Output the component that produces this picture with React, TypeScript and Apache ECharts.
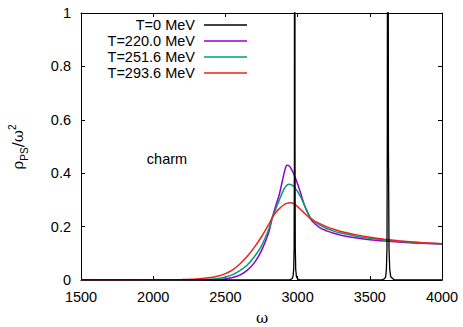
import React, { useEffect, useRef } from "react";
import * as echarts from "echarts";

const seriesNames = ["T=0 MeV", "T=220.0 MeV", "T=251.6 MeV", "T=293.6 MeV"];
const seriesColors = ["#000000", "#9400D3", "#009E73", "#E8251B"];

const t0Omega = [1500, 2940, 2960, 2968, 2973, 2976, 2978, 2980, 2982, 2984, 2987, 2992, 3000, 3020, 3580, 3600, 3610, 3615, 3619, 3621, 3623, 3625, 3627, 3629, 3633, 3638, 3645, 3670, 4000];
const t0Rho = [0, 0, 0.004, 0.012, 0.04, 0.12, 0.5, 6, 0.5, 0.12, 0.04, 0.012, 0.004, 0, 0, 0.004, 0.012, 0.04, 0.12, 0.5, 1.5, 6, 1.5, 0.5, 0.12, 0.04, 0.012, 0, 0];

const t220Omega = [1500, 2300, 2400, 2500, 2550, 2600, 2650, 2700, 2750, 2800, 2825, 2850, 2875, 2900, 2915, 2925, 2935, 2950, 2975, 3000, 3025, 3050, 3086, 3100, 3150, 3200, 3250, 3300, 3400, 3500, 3600, 3700, 3800, 3900, 4000];
const t220Rho = [0, 0, 0.001, 0.004, 0.009, 0.018, 0.036, 0.064, 0.11, 0.178, 0.234, 0.28, 0.324, 0.385, 0.418, 0.43, 0.429, 0.422, 0.395, 0.36, 0.318, 0.276, 0.233, 0.221, 0.197, 0.184, 0.175, 0.168, 0.158, 0.151, 0.146, 0.142, 0.139, 0.137, 0.135];

const t252Omega = [1500, 2200, 2300, 2400, 2450, 2500, 2550, 2600, 2650, 2700, 2750, 2800, 2825, 2850, 2875, 2900, 2920, 2940, 2960, 2980, 3000, 3025, 3050, 3086, 3100, 3150, 3200, 3250, 3300, 3400, 3500, 3600, 3700, 3800, 3900, 4000];
const t252Rho = [0, 0, 0.001, 0.003, 0.006, 0.011, 0.02, 0.035, 0.055, 0.087, 0.128, 0.19, 0.234, 0.268, 0.302, 0.334, 0.352, 0.359, 0.356, 0.346, 0.331, 0.307, 0.277, 0.236, 0.228, 0.207, 0.193, 0.183, 0.176, 0.165, 0.156, 0.150, 0.145, 0.141, 0.138, 0.136];

const t294Omega = [1500, 2000, 2200, 2300, 2400, 2450, 2500, 2550, 2600, 2650, 2700, 2750, 2800, 2825, 2850, 2875, 2900, 2925, 2950, 2975, 3000, 3025, 3050, 3086, 3100, 3150, 3200, 3250, 3300, 3400, 3500, 3600, 3700, 3800, 3900, 4000];
const t294Rho = [0, 0.0005, 0.002, 0.004, 0.009, 0.015, 0.024, 0.038, 0.06, 0.088, 0.122, 0.162, 0.208, 0.234, 0.254, 0.268, 0.28, 0.287, 0.289, 0.285, 0.275, 0.262, 0.249, 0.231, 0.225, 0.212, 0.2, 0.19, 0.182, 0.17, 0.16, 0.153, 0.147, 0.142, 0.139, 0.136];

const xTicks = { min: 1500, max: 4000, interval: 500 };
const yTicks = { min: 0, max: 1, interval: 0.2 };

const zip = (xs: number[], ys: number[]) => xs.map((x, i) => [x, ys[i]]);

const FONT = "Liberation Sans";

export default function App() {
  const ref = useRef<HTMLDivElement>(null);
  useEffect(() => {
    if (!ref.current) return;
    const chart = echarts.init(ref.current, undefined, { renderer: "svg" });
    const data = [
      zip(t0Omega, t0Rho),
      zip(t220Omega, t220Rho),
      zip(t252Omega, t252Rho),
      zip(t294Omega, t294Rho),
    ];
    const axisCommon = {
      type: "value" as const,
      axisLine: { show: true, onZero: false, lineStyle: { color: "#000", width: 1 } },
      axisTick: { show: true, inside: true, length: 4, lineStyle: { color: "#000" } },
      splitLine: { show: false },
    };
    const legendGraphics: any[] = [];
    seriesNames.forEach((name, i) => {
      const y = 25 + i * 16;
      legendGraphics.push({
        type: "text",
        x: 195,
        y,
        style: { text: name, fontFamily: FONT, fontSize: 14.5, fill: "#000", textAlign: "right", textVerticalAlign: "middle" },
      });
      legendGraphics.push({
        type: "line",
        shape: { x1: 204, y1: y, x2: 247, y2: y },
        style: { stroke: seriesColors[i], lineWidth: 1.5 },
      });
    });
    chart.setOption({
      animation: false,
      backgroundColor: "#fff",
      grid: { left: 81, right: 21, top: 13, bottom: 47 },
      xAxis: [
        {
          ...axisCommon,
          ...xTicks,
          position: "bottom",
          axisLabel: { show: true, color: "#000", fontFamily: FONT, fontSize: 14.5, margin: 9, formatter: (v: number) => String(v) },
        },
        {
          ...axisCommon,
          ...xTicks,
          position: "top",
          axisLabel: { show: false },
        },
      ],
      yAxis: [
        {
          ...axisCommon,
          ...yTicks,
          position: "left",
          axisLabel: { show: true, color: "#000", fontFamily: FONT, fontSize: 14.5, margin: 10, formatter: (v: number) => String(v) },
        },
        {
          ...axisCommon,
          ...yTicks,
          position: "right",
          axisLabel: { show: false },
        },
      ],
      series: data.map((d, i) => ({
        name: seriesNames[i],
        type: "line",
        data: d,
        xAxisIndex: 0,
        yAxisIndex: 0,
        showSymbol: false,
        symbol: "none",
        smooth: i === 0 ? false : 0.3,
        clip: true,
        z: i === 0 ? 5 : 2 + i * 0.1,
        lineStyle: { color: seriesColors[i], width: i === 0 ? 1.3 : 1.5 },
        itemStyle: { color: seriesColors[i] },
      })),
      graphic: [
        ...legendGraphics,
        {
          type: "text",
          x: 167,
          y: 159,
          style: { text: "charm", fontFamily: FONT, fontSize: 14.5, fill: "#000", textAlign: "center", textVerticalAlign: "middle" },
        },
        {
          type: "text",
          x: 262,
          y: 318,
          style: { text: "ω", fontFamily: "DejaVu Serif", fontSize: 15, fill: "#000", textAlign: "center", textVerticalAlign: "middle" },
        },
        {
          type: "text",
          x: 18,
          y: 147,
          rotation: Math.PI / 2,
          style: {
            text: "{m|ρ}{s|PS}{m|/ω}{p|2}",
            textAlign: "center",
            textVerticalAlign: "middle",
            fill: "#000",
            rich: {
              m: { fontFamily: "DejaVu Serif", fontSize: 15, lineHeight: 22, verticalAlign: "middle", fill: "#000" },
              s: { fontFamily: FONT, fontSize: 10, lineHeight: 22, verticalAlign: "bottom", fill: "#000" },
              p: { fontFamily: FONT, fontSize: 10, lineHeight: 22, verticalAlign: "top", fill: "#000" },
            },
          },
        },
      ],
    });
    return () => chart.dispose();
  }, []);
  return <div ref={ref} style={{ position: "fixed", left: 0, top: 0, width: 463, height: 327 }} />;
}
